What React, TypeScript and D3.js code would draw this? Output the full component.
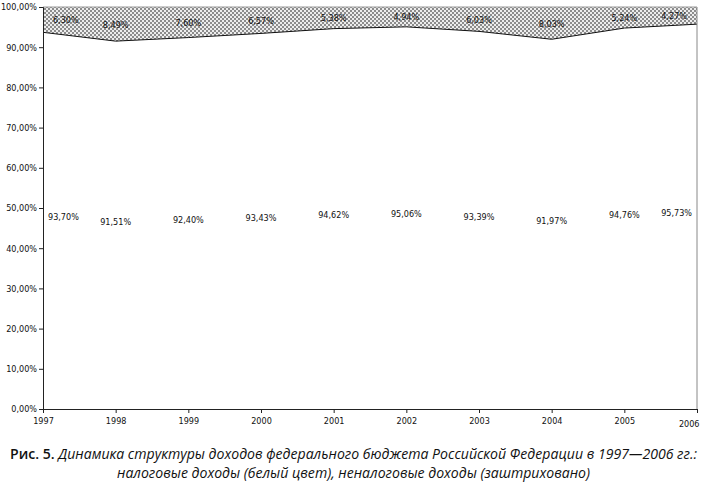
import React, { useEffect, useRef } from 'react';
import * as d3 from 'd3';

// Data
const years: string[] = ['1997', '1998', '1999', '2000', '2001', '2002', '2003', '2004', '2005', '2006'];
const taxShare: number[] = [93.7, 91.51, 92.4, 93.43, 94.62, 95.06, 93.39, 91.97, 94.76, 95.73];
const nonTaxShare: number[] = [6.3, 8.49, 7.6, 6.57, 5.38, 4.94, 6.03, 8.03, 5.24, 4.27];
const yTicks: number[] = [0, 0.1, 0.2, 0.3, 0.4, 0.5, 0.6, 0.7, 0.8, 0.9, 1];

const captionLine1Bold = 'Рис. 5. ';
const captionLine1 = 'Динамика структуры доходов федерального бюджета Российской Федерации в 1997—2006 гг.:';
const captionLine2 = 'налоговые доходы (белый цвет), неналоговые доходы (заштриховано)';

const fmt = (v: number) => v.toFixed(2).replace('.', ',') + '%';

const App: React.FC = () => {
  const svgRef = useRef<SVGSVGElement | null>(null);

  useEffect(() => {
    const width = 706;
    const height = 486;
    const margin = { top: 7, right: 9, bottom: 77, left: 43 };
    const labelFont = '"DejaVu Sans Condensed", "Liberation Sans Narrow", "Noto Sans", sans-serif';

    const svg = d3.select(svgRef.current)
      .attr('width', width)
      .attr('height', height);
    svg.selectAll('*').remove();

    // Hatch pattern (checkered)
    const defs = svg.append('defs');
    const pat = defs.append('pattern')
      .attr('id', 'hatch')
      .attr('patternUnits', 'userSpaceOnUse')
      .attr('width', 4)
      .attr('height', 4);
    pat.append('rect').attr('width', 4).attr('height', 4).attr('fill', '#ededed');
    pat.append('rect').attr('x', 0).attr('y', 0).attr('width', 2).attr('height', 2).attr('fill', '#8c8c8c');
    pat.append('rect').attr('x', 2).attr('y', 2).attr('width', 2).attr('height', 2).attr('fill', '#8c8c8c');

    const x = d3.scalePoint<string>()
      .domain(years)
      .range([margin.left, width - margin.right]);

    const y = d3.scaleLinear()
      .domain([0, 1])
      .range([height - margin.bottom, margin.top]);

    // 100% stacked area
    const rows = years.map((yr, i) => ({ year: yr, tax: taxShare[i], nontax: nonTaxShare[i] }));
    const stack = d3.stack<any>()
      .keys(['tax', 'nontax'])
      .offset(d3.stackOffsetExpand);
    const series = stack(rows);

    const area = d3.area<any>()
      .x(d => x(d.data.year) as number)
      .y0(d => y(d[0]))
      .y1(d => y(d[1]));

    svg.append('path')
      .datum(series[0])
      .attr('d', area)
      .attr('fill', '#ffffff');

    svg.append('path')
      .datum(series[1])
      .attr('d', area)
      .attr('fill', 'url(#hatch)');

    // boundary line between the two areas
    svg.append('path')
      .datum(series[0])
      .attr('d', d3.line<any>().x(d => x(d.data.year) as number).y(d => y(d[1])))
      .attr('fill', 'none')
      .attr('stroke', '#111')
      .attr('stroke-width', 1);

    // top and right border
    svg.append('line')
      .attr('x1', margin.left).attr('x2', width - margin.right)
      .attr('y1', y(1)).attr('y2', y(1))
      .attr('stroke', '#999');
    svg.append('line')
      .attr('x1', width - margin.right).attr('x2', width - margin.right)
      .attr('y1', y(1)).attr('y2', y(0))
      .attr('stroke', '#888');

    // Axes
    const yAxis = d3.axisLeft(y)
      .tickValues(yTicks)
      .tickSize(4)
      .tickFormat(d => fmt((d as number) * 100));
    const gy = svg.append('g')
      .attr('transform', `translate(${margin.left},0)`)
      .call(yAxis);
    gy.select('.domain').attr('stroke', '#222');
    gy.selectAll('.tick line').attr('stroke', '#222');
    gy.selectAll('.tick text')
      .attr('font-family', labelFont)
      .attr('font-size', '9px')
      .attr('fill', '#111')
      .attr('x', -6);

    const xAxis = d3.axisBottom(x).tickSize(4).tickSizeOuter(0);
    const gx = svg.append('g')
      .attr('transform', `translate(0,${height - margin.bottom})`)
      .call(xAxis);
    gx.select('.domain').attr('stroke', '#222');
    gx.selectAll('.tick line').attr('stroke', '#222');
    gx.selectAll('.tick text')
      .attr('font-family', labelFont)
      .attr('font-size', '9px')
      .attr('fill', '#111')
      .attr('y', 9)
      .attr('text-anchor', (_, i) => (i === years.length - 1 ? 'end' : 'middle'))
      .attr('dx', (_, i) => (i === years.length - 1 ? 2 : 0))
      .attr('dy', (_, i) => (i === years.length - 1 ? '1em' : '0.71em'));

    const anchorFor = (i: number) => (i === 0 ? 'start' : i === years.length - 1 ? 'end' : 'middle');
    const dxFor = (i: number) => (i === 0 ? 5 : i === years.length - 1 ? -5 : 0);

    // Labels for tax revenue (centre of white area)
    svg.append('g')
      .selectAll('text')
      .data(series[0])
      .enter()
      .append('text')
      .attr('x', (d, i) => (x(d.data.year) as number) + dxFor(i))
      .attr('y', d => y((d[0] + d[1]) / 2) - 3)
      .attr('text-anchor', (_, i) => anchorFor(i))
      .attr('dominant-baseline', 'middle')
      .attr('font-family', labelFont)
      .attr('font-size', '9px')
      .attr('fill', '#111')
      .text((_, i) => fmt(taxShare[i]));

    // Labels for non-tax revenue (centre of hatched band)
    svg.append('g')
      .selectAll('text')
      .data(series[1])
      .enter()
      .append('text')
      .attr('x', (d, i) => (x(d.data.year) as number) + dxFor(i) * 2)
      .attr('y', d => y((d[0] + d[1]) / 2) + 1)
      .attr('text-anchor', (_, i) => anchorFor(i))
      .attr('dominant-baseline', 'middle')
      .attr('font-family', labelFont)
      .attr('font-size', '9px')
      .attr('fill', '#111')
      .text((_, i) => fmt(nonTaxShare[i]));

    // Caption
    const capFont = '"Open Sans", "Noto Sans", sans-serif';
    const cap1 = svg.append('text')
      .attr('x', 10)
      .attr('y', 459)
      .attr('font-family', capFont)
      .attr('font-size', '15px')
      .attr('fill', '#111')
      .attr('textLength', 687)
      .attr('lengthAdjust', 'spacingAndGlyphs');
    cap1.append('tspan')
      .attr('font-weight', 600)
      .text(captionLine1Bold);
    cap1.append('tspan')
      .attr('font-style', 'italic')
      .text(captionLine1);
    svg.append('text')
      .attr('x', 117)
      .attr('y', 478)
      .attr('font-family', capFont)
      .attr('font-size', '15px')
      .attr('font-style', 'italic')
      .attr('fill', '#111')
      .attr('textLength', 473)
      .attr('lengthAdjust', 'spacingAndGlyphs')
      .text(captionLine2);
  }, []);

  return (
    <svg
      ref={svgRef}
      style={{ position: 'absolute', left: 0, top: 0, background: '#fff' }}
    ></svg>
  );
};

export default App;
